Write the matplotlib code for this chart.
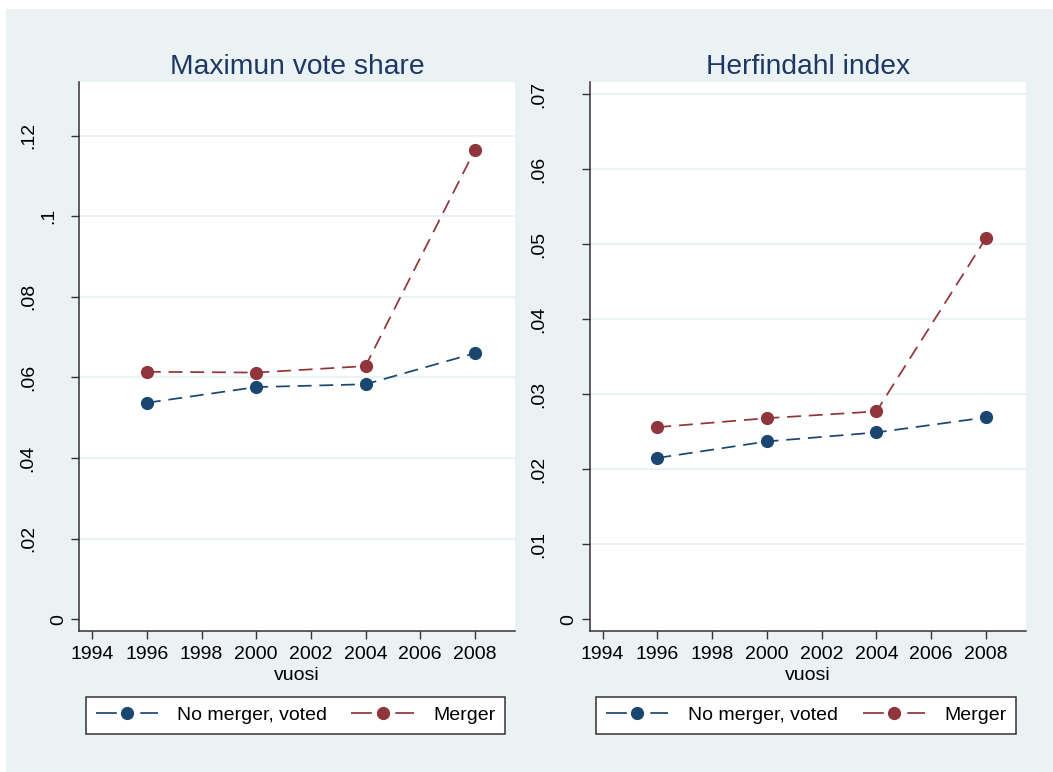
import matplotlib.pyplot as plt
from matplotlib.patches import Rectangle
from matplotlib.transforms import ScaledTranslation

plt.rcParams['font.family'] = ['Liberation Sans', 'DejaVu Sans']

years = [1996, 2000, 2004, 2008]

# Maximun vote share
vote_no_merger = [0.0537, 0.0576, 0.0583, 0.0660]
vote_merger = [0.0614, 0.0612, 0.0628, 0.1164]

# Herfindahl index
herf_no_merger = [0.0215, 0.0237, 0.0249, 0.0269]
herf_merger = [0.0256, 0.0268, 0.0277, 0.0508]

xticks = list(range(1994, 2009, 2))
vote_ticks = [0, 0.02, 0.04, 0.06, 0.08, 0.10, 0.12]
vote_labels = ['0', '.02', '.04', '.06', '.08', '.1', '.12']
herf_ticks = [0, 0.01, 0.02, 0.03, 0.04, 0.05, 0.06, 0.07]
herf_labels = ['0', '.01', '.02', '.03', '.04', '.05', '.06', '.07']

navy = '#1a476f'
maroon = '#90353b'
bg = '#eaf2f3'
fs = 14

fig = plt.figure(figsize=(10.53, 7.72), dpi=100)
fig.patch.set_facecolor('white')
fig.patches.append(Rectangle((6 / 1053, 0), 1, 1 - 9 / 772, transform=fig.transFigure,
                             facecolor=bg, edgecolor='none', zorder=-10))

ylabel_texts = []

def draw_panel(ax, title, no_merger, merger, ticks, labels, ylim):
    ax.set_facecolor('white')
    for s in ['top', 'right']:
        ax.spines[s].set_visible(False)
    for s in ['left', 'bottom']:
        ax.spines[s].set_color('#333333')
        ax.spines[s].set_linewidth(1.1)
    # gridlines, skipping the bottom tick
    for t in ticks[1:]:
        ax.axhline(t, color=bg, lw=1.5, zorder=0)
    ax.plot(years, no_merger, color=navy, ls=(0, (8, 4.5)), lw=1.25, marker='o', ms=8.5,
            label='No merger, voted')
    ax.plot(years, merger, color=maroon, ls=(0, (8, 4.5)), lw=1.25, marker='o', ms=8.5,
            label='Merger')
    ax.set_xlim(1993.53, 2009.46)
    ax.set_ylim(*ylim)
    ax.set_xticks(xticks)
    ax.set_yticks(ticks)
    ax.set_yticklabels([])
    ax.tick_params(axis='both', direction='out', length=5.5, width=1, color='#333333',
                   labelsize=fs, pad=5)
    # y labels drawn by hand so each can be offset like the Stata output
    for t, lab in zip(ticks, labels):
        txt = ax.text(0, t, lab, transform=ax.get_yaxis_transform(), rotation=90,
                      rotation_mode='anchor', ha='center', va='baseline', fontsize=fs)
        ylabel_texts.append((ax, txt))
    ax.set_xlabel('vuosi', fontsize=fs, labelpad=3)
    ax.set_title(title, fontsize=20.3, color='#1e3765', pad=6)
    leg = ax.legend(loc='lower left', bbox_to_anchor=(0.015, -0.187, 0.963, 0.069),
                    mode='expand', ncol=2, fontsize=fs, frameon=True, fancybox=False,
                    handlelength=3.2, handletextpad=1.0, borderaxespad=0, borderpad=0.5,
                    edgecolor='#333333', framealpha=1)
    leg.get_frame().set_linewidth(1.1)
    # one long dash either side of the marker in the key
    for ln in leg.get_lines():
        ln.set_linestyle((0, (12, 13.5)))

ax1 = fig.add_axes([79.4 / 1053, 1 - 631.3 / 772, 435.3 / 1053, 549.3 / 772])
draw_panel(ax1, 'Maximun vote share', vote_no_merger, vote_merger,
           vote_ticks, vote_labels, (-0.003, 0.1333))

ax2 = fig.add_axes([589.7 / 1053, 1 - 631.3 / 772, 436.3 / 1053, 549.3 / 772])
draw_panel(ax2, 'Herfindahl index', herf_no_merger, herf_merger,
           herf_ticks, herf_labels, (-0.0016, 0.0716))

# longer labels sit further from the axis
fig.canvas.draw()
for ax, txt in ylabel_texts:
    length = txt.get_window_extent().height
    off = 1.85 * length - 3.6
    txt.set_transform(ax.get_yaxis_transform() +
                      ScaledTranslation(-off / fig.dpi, 0, fig.dpi_scale_trans))

fig.savefig('out.png', dpi=100)
